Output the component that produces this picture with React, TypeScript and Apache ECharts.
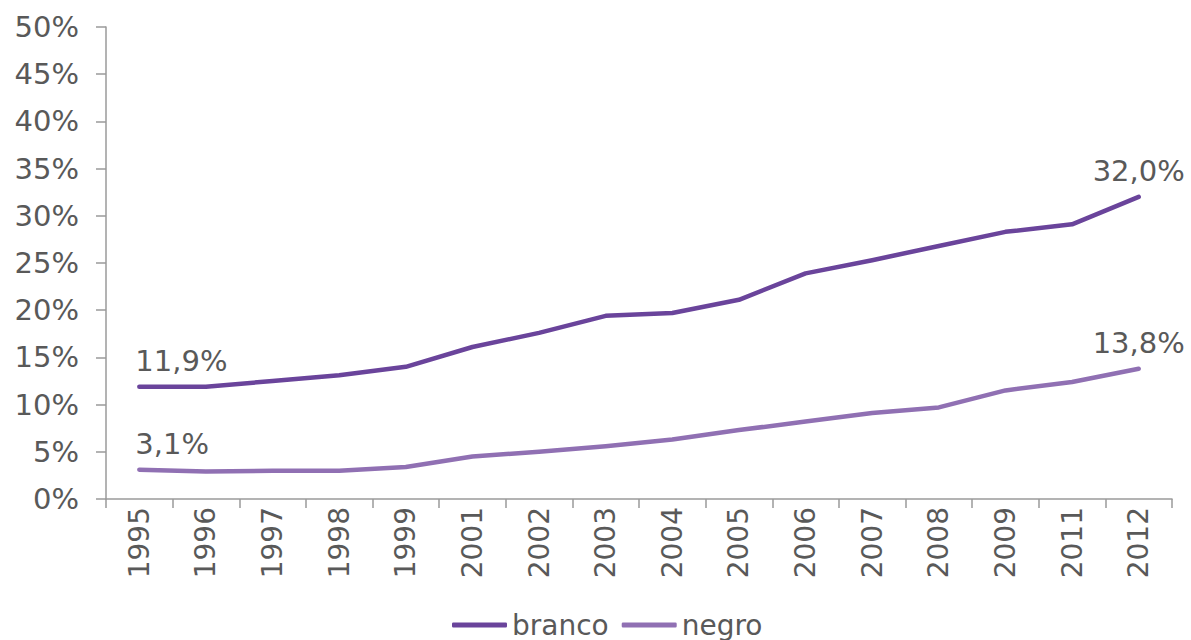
import React, { useEffect, useRef } from "react";
import * as echarts from "echarts";

// Years on the category axis
const years = [
  "1995", "1996", "1997", "1998", "1999", "2001", "2002", "2003",
  "2004", "2005", "2006", "2007", "2008", "2009", "2011", "2012",
];

// Share (%) per group
const branco = [11.9, 11.9, 12.5, 13.1, 14.0, 16.1, 17.6, 19.4, 19.7, 21.1, 23.9, 25.3, 26.8, 28.3, 29.1, 32.0];
const negro = [3.1, 2.9, 3.0, 3.0, 3.4, 4.5, 5.0, 5.6, 6.3, 7.3, 8.2, 9.1, 9.7, 11.5, 12.4, 13.8];

const FONT = "DejaVu Sans, Verdana, sans-serif";
const TEXT = "#595959";
const AXIS = "#9a9a9a";

const fmt = (v: number) => v.toFixed(1).replace(".", ",") + "%";

// Label only the first and last point of each line
function withEndLabels(values: number[]) {
  return values.map((v, i) => {
    if (i === 0) {
      return { value: v, label: { show: true, align: "left", offset: [-4, 0] } };
    }
    if (i === values.length - 1) {
      return { value: v, label: { show: true } };
    }
    return v;
  });
}

function lineSeries(name: string, values: number[], color: string) {
  return {
    name,
    type: "line",
    data: withEndLabels(values),
    symbol: "circle",
    symbolSize: 0,
    showSymbol: true,
    lineStyle: { color, width: 4.5, cap: "round", join: "round" },
    itemStyle: { color },
    label: {
      show: false,
      position: "top",
      distance: 11,
      color: TEXT,
      fontSize: 29,
      fontFamily: FONT,
      formatter: (p: any) => fmt(p.value as number),
    },
    emphasis: { disabled: true },
  };
}

export default function App() {
  const ref = useRef<HTMLDivElement>(null);

  useEffect(() => {
    if (!ref.current) return;
    const chart = echarts.init(ref.current, undefined, { renderer: "svg" });
    chart.setOption({
      animation: false,
      backgroundColor: "#ffffff",
      grid: {
        left: 106,
        right: 19,
        top: 27,
        bottom: 141,
        containLabel: false,
        outerBoundsMode: "none",
      },
      legend: {
        left: 452,
        top: 610,
        padding: 0,
        icon: "roundRect",
        itemWidth: 55,
        itemHeight: 5,
        itemGap: 13,
        textStyle: { color: TEXT, fontSize: 28, lineHeight: 30, fontFamily: FONT },
        data: ["branco", "negro"],
      },
      xAxis: {
        type: "category",
        data: years,
        boundaryGap: true,
        axisLine: { lineStyle: { color: AXIS, width: 1.5 } },
        axisTick: { show: true, length: 9, alignWithLabel: false, lineStyle: { color: AXIS, width: 1.5 } },
        axisLabel: {
          rotate: 90,
          margin: 8,
          interval: 0,
          color: TEXT,
          fontSize: 28,
          fontFamily: FONT,
        },
      },
      yAxis: {
        type: "value",
        min: 0,
        max: 50,
        interval: 5,
        splitLine: { show: false },
        axisLine: { show: true, lineStyle: { color: AXIS, width: 1.5 } },
        axisTick: { show: true, length: 10, inside: false, lineStyle: { color: AXIS, width: 1.5 } },
        axisLabel: {
          margin: 27,
          color: TEXT,
          fontSize: 29,
          fontFamily: FONT,
          formatter: "{value}%",
        },
      },
      series: [
        lineSeries("branco", branco, "#6a449b"),
        lineSeries("negro", negro, "#9070b3"),
      ],
    });
    return () => chart.dispose();
  }, []);

  return (
    <div
      ref={ref}
      style={{ position: "fixed", left: 0, top: 0, width: 1191, height: 640, background: "#fff" }}
    />
  );
}
